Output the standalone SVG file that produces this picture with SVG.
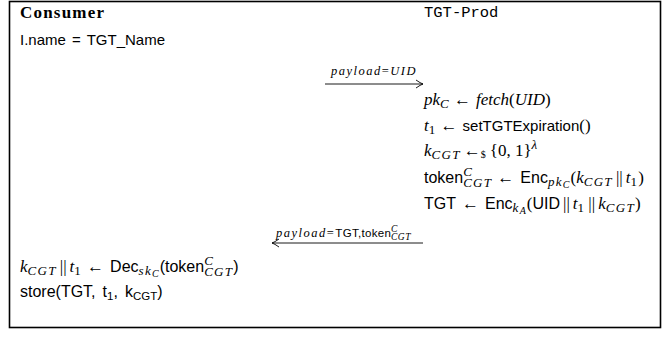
<svg xmlns="http://www.w3.org/2000/svg" width="668" height="340" viewBox="0 0 668 340">
<style>
text{fill:#000}
.sans{font-family:"Liberation Sans",Arial,sans-serif;font-size:15px}
.ser{font-family:"Liberation Serif","Times New Roman",serif;font-size:17px}
.it{font-style:italic}
.up{font-style:normal}
.sf{font-family:"Liberation Sans",Arial,sans-serif;font-style:normal;font-size:16px}
.sm{font-size:13px;letter-spacing:1.3px}
.xs{font-size:10px;letter-spacing:0}
.bold{font-family:"Liberation Serif","Times New Roman",serif;font-weight:bold;font-size:17px;letter-spacing:1.2px}
.tt{font-family:"Liberation Mono","DejaVu Sans Mono",monospace;font-size:15.5px}
.lbl{font-family:"Liberation Serif","Times New Roman",serif;font-size:12.5px;letter-spacing:1.5px}
.conn line{stroke:#000;stroke-width:0.9}
</style>
<defs>
<marker id="ah" viewBox="-9 -5 10 10" refX="0" refY="0" markerWidth="10" markerHeight="10" markerUnits="userSpaceOnUse" orient="auto-start-reverse">
<path d="M-7,-4 Q-2.5,-0.8 0,0 Q-2.5,0.8 -7,4" fill="none" stroke="#000" stroke-width="0.9"/>
</marker>
</defs>
<rect x="9.5" y="1.5" width="651" height="326" fill="#fff" stroke="#000" stroke-width="1.6"/>

<g id="consumer">
<text x="20" y="18" class="bold">Consumer</text>
<text x="20" y="45" class="sans">I.name <tspan dx="2">=</tspan> <tspan dx="2">TGT_Name</tspan></text>
<text x="20" y="272" class="ser it">k<tspan class="sm" dy="3">CGT</tspan><tspan class="up" dy="-3" dx="3">||</tspan><tspan dx="3">t</tspan><tspan class="sm up" dy="3">1</tspan><tspan class="up" dy="-3" dx="5">←</tspan><tspan class="sf" dx="6">Dec</tspan><tspan class="sm" dy="3">sk</tspan><tspan class="xs" dy="2">C</tspan><tspan class="sf" dy="-5" dx="1">(token</tspan><tspan class="sm" dy="-7">C</tspan><tspan class="sm" dx="-10" dy="11">CGT</tspan><tspan class="sf" dy="-4">)</tspan></text>
<text x="20" y="297" class="sans" style="font-size:16px">store(TGT,<tspan dx="7">t</tspan><tspan style="font-size:11.5px" dy="3">1</tspan><tspan dy="-3">,</tspan><tspan dx="7">k</tspan><tspan style="font-size:11.5px" dy="3">CGT</tspan><tspan dy="-3">)</tspan></text>
</g>

<g id="tgt-prod">
<text x="424" y="17" class="tt">TGT-Prod</text>
<text x="424" y="105" class="ser it">pk<tspan class="sm" dy="3">C</tspan><tspan class="up" dy="-3" dx="4">←</tspan><tspan dx="5">fetch</tspan><tspan class="up">(</tspan>UID<tspan class="up">)</tspan></text>
<text x="424" y="131" class="ser it">t<tspan class="sm up" dy="3">1</tspan><tspan class="up" dy="-3" dx="4">←</tspan><tspan class="sf" dx="5" style="font-size:15px">setTGTExpiration</tspan><tspan class="up">()</tspan></text>
<text x="424" y="156" class="ser it">k<tspan class="sm" dy="3">CGT</tspan><tspan class="up" dy="-3" dx="3">←</tspan><tspan class="xs up" dy="2">$</tspan><tspan class="up" dy="-2" dx="4">{0, 1}</tspan><tspan class="sm" dy="-7">λ</tspan></text>
<text x="424" y="183" class="ser it"><tspan class="sf">token</tspan><tspan class="sm" dy="-7">C</tspan><tspan class="sm" dx="-10" dy="11">CGT</tspan><tspan class="up" dy="-4" dx="5">←</tspan><tspan class="sf" dx="6">Enc</tspan><tspan class="sm" dy="3">pk</tspan><tspan class="xs" dy="2">C</tspan><tspan class="up" dy="-5" dx="1">(</tspan>k<tspan class="sm" dy="3">CGT</tspan><tspan class="up" dy="-3" dx="3">||</tspan><tspan dx="3">t</tspan><tspan class="sm up" dy="3">1</tspan><tspan class="up" dy="-3">)</tspan></text>
<text x="424" y="209" class="ser it"><tspan class="sf">TGT</tspan><tspan class="up" dx="6">←</tspan><tspan class="sf" dx="6">Enc</tspan><tspan class="sm" dy="3">k</tspan><tspan class="xs" dy="2">A</tspan><tspan class="up" dy="-5" dx="1">(</tspan><tspan class="sf">UID</tspan><tspan class="up" dx="3">||</tspan><tspan dx="3">t</tspan><tspan class="sm up" dy="3">1</tspan><tspan class="up" dy="-3" dx="3">||</tspan><tspan dx="3">k</tspan><tspan class="sm" dy="3">CGT</tspan><tspan class="up" dy="-3">)</tspan></text>
</g>

<g class="conn" id="connectors">
<line x1="325" y1="84" x2="423" y2="84" marker-end="url(#ah)"/>
<text x="374" y="75" class="lbl it" text-anchor="middle">payload<tspan class="up">=</tspan>UID</text>
<line x1="272" y1="243" x2="423" y2="243" marker-start="url(#ah)"/>
<text x="276" y="237" class="lbl it">payload<tspan class="up">=</tspan><tspan class="sf" style="font-size:11.5px;letter-spacing:0.3px">TGT,token</tspan><tspan style="font-size:9.5px;letter-spacing:0.5px" dy="-5">C</tspan><tspan style="font-size:9.5px;letter-spacing:0.5px" dx="-7" dy="8">CGT</tspan></text>
</g>
</svg>
